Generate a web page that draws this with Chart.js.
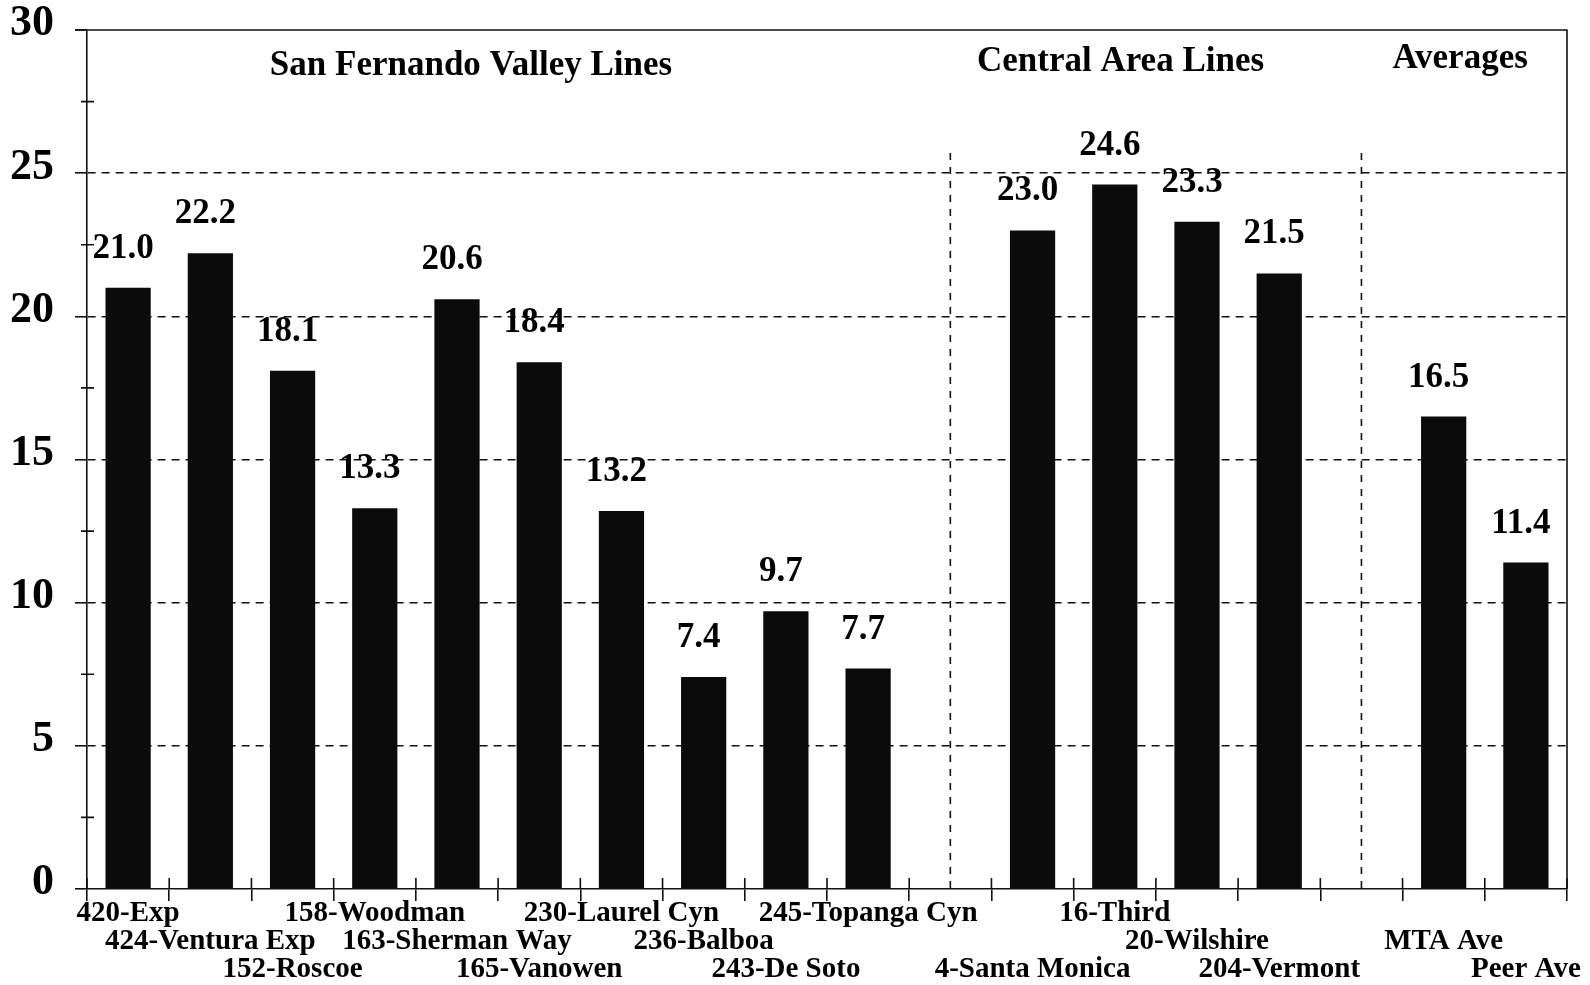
<!DOCTYPE html>
<html>
<head>
<meta charset="utf-8">
<title>Line comparison</title>
<script src="https://cdn.jsdelivr.net/npm/chart.js@4.4.1/dist/chart.umd.min.js"></script>
<style>
  html, body { margin: 0; padding: 0; background: #fff; }
  #wrap { width: 1590px; height: 985px; }
</style>
</head>
<body>
<div id="wrap"><canvas id="chart" width="1590" height="985"></canvas></div>
<script>
// empty names are spacer slots between the groups
const lineNames = ["420-Exp", "424-Ventura Exp", "152-Roscoe", "158-Woodman", "163-Sherman Way",
  "165-Vanowen", "230-Laurel Cyn", "236-Balboa", "243-De Soto", "245-Topanga Cyn", "",
  "4-Santa Monica", "16-Third", "20-Wilshire", "204-Vermont", "", "MTA Ave", "Peer Ave"];
const lineValues = [21.0, 22.2, 18.1, 13.3, 20.6, 18.4, 13.2, 7.4, 9.7, 7.7, null,
  23.0, 24.6, 23.3, 21.5, null, 16.5, 11.4];
const groupTitles = ["San Fernando Valley Lines", "Central Area Lines", "Averages"];
const yMin = 0, yMax = 30, yStep = 5;

const serif = "'Liberation Serif', 'Times New Roman', serif";
const ink = '#111';

// where each group heading sits (category index) and its baseline
const titleSpots = [{ at: 4.17, base: 75 }, { at: 12.07, base: 71 }, { at: 16.2, base: 68 }];

const framePlugin = {
  id: 'frame',
  afterDraw(chart) {
    const { ctx, chartArea: a, scales: { x, y } } = chart;
    ctx.save();
    ctx.strokeStyle = ink;
    ctx.lineWidth = 1.6;

    // top and right edges of the box
    ctx.beginPath();
    ctx.moveTo(a.left - 12, a.top);
    ctx.lineTo(a.right, a.top);
    ctx.lineTo(a.right, a.bottom);
    ctx.stroke();

    // minor ticks on the value axis + inner half of category ticks
    ctx.beginPath();
    for (let v = yMin + yStep / 2; v < yMax; v += yStep) {
      const py = y.getPixelForValue(v);
      ctx.moveTo(a.left - 6, py);
      ctx.lineTo(a.left + 7, py);
    }
    for (let i = 0; i <= lineNames.length; i++) {
      const px = x.getPixelForValue(i - 0.5);
      ctx.moveTo(px, a.bottom);
      ctx.lineTo(px, a.bottom - 11);
    }
    ctx.stroke();

    // dashed dividers in the spacer slots
    ctx.setLineDash([7, 7]);
    ctx.beginPath();
    lineNames.forEach((n, i) => {
      if (n !== '') return;
      const px = x.getPixelForValue(i);
      ctx.moveTo(px, y.getPixelForValue(25.7));
      ctx.lineTo(px, a.bottom);
    });
    ctx.stroke();
    ctx.setLineDash([]);

    // group headings
    ctx.fillStyle = '#000';
    ctx.textAlign = 'center';
    ctx.textBaseline = 'alphabetic';
    ctx.font = `bold 35px ${serif}`;
    groupTitles.forEach((t, i) => {
      ctx.fillText(t, x.getPixelForValue(titleSpots[i].at), titleSpots[i].base);
    });

    // value above each bar
    const bars = chart.getDatasetMeta(0).data;
    lineValues.forEach((v, i) => {
      if (v === null) return;
      ctx.fillText(v.toFixed(1), bars[i].x - 5, y.getPixelForValue(v) - 30);
    });
    ctx.restore();
  }
};

const ctx = document.getElementById('chart').getContext('2d');
new Chart(ctx, {
  type: 'bar',
  data: {
    labels: lineNames,
    datasets: [{
      data: lineValues,
      backgroundColor: '#0b0b0b',
      barPercentage: 0.55,
      categoryPercentage: 1
    }]
  },
  options: {
    responsive: false,
    animation: false,
    layout: { padding: { top: 30, right: 23, left: 0, bottom: 0 } },
    plugins: { legend: { display: false }, tooltip: { enabled: false } },
    scales: {
      x: {
        grid: { offset: true, drawOnChartArea: false, drawTicks: true, tickLength: 12, color: ink, lineWidth: 1.6 },
        border: { color: ink, width: 1.6 },
        ticks: {
          autoSkip: false, maxRotation: 0, minRotation: 0, padding: -2, color: '#000',
          font: { family: serif, size: 29, weight: 'bold', lineHeight: 0.97 },
          // stagger the names over three rows
          callback: (v, i) => {
            const rows = ['', '', ''];
            rows[i % 3] = lineNames[i];
            return rows.slice(0, i % 3 + 1);
          }
        },
        afterFit: s => { s.height = 96; s.paddingLeft = 0; s.paddingRight = 0; }
      },
      y: {
        min: yMin, max: yMax,
        ticks: {
          stepSize: yStep, padding: 21, labelOffset: -6, color: '#000',
          font: { family: serif, size: 44, weight: 'bold' }
        },
        grid: {
          color: c => (c.tick.value > yMin && c.tick.value < yMax) ? ink : 'rgba(0,0,0,0)',
          tickColor: ink, tickLength: 12, lineWidth: 1.6, tickBorderDash: []
        },
        border: { color: ink, width: 1.6, dash: [8, 6] },
        afterFit: s => { s.width = 87; s.paddingTop = 0; s.paddingBottom = 0; }
      }
    }
  },
  plugins: [framePlugin]
});
</script>
</body>
</html>
